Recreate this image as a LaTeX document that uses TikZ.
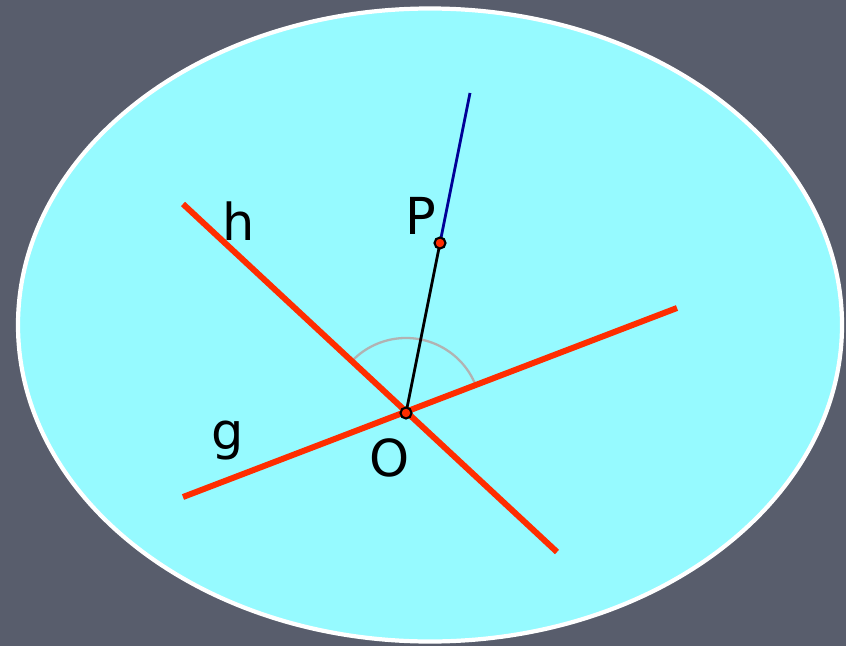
\documentclass[tikz,border=0pt]{standalone}
\usepackage{fontspec}
\setmainfont{DejaVu Sans}
\usepackage{tikz}
\usetikzlibrary{calc}
\definecolor{hintergrund}{RGB}{88,93,108}
\definecolor{ebene}{RGB}{150,250,255}
\definecolor{gerade}{RGB}{255,45,0}
\definecolor{strahl}{RGB}{0,0,150}
\definecolor{winkel}{RGB}{178,178,178}
\tikzset{
  geradenlinie/.style={gerade, line width=3.4pt},
  punkt/.style={circle, draw=black, fill=gerade, line width=1.2pt, inner sep=0pt, minimum size=0.22cm},
  beschriftung/.style={font=\fontsize{29}{29}\selectfont, inner sep=0pt}
}

\begin{document}
\begin{tikzpicture}

         % Hintergrund
         \fill[hintergrund] (0,0) rectangle (16.92,12.92);
         \useasboundingbox (0,0) rectangle (16.92,12.92);

         % Ebene als Ellipse
         \draw[fill=ebene, draw=white, line width=2.4pt] (8.6,6.42) ellipse [x radius=8.24, y radius=6.33];

         % Punkte O und P
         \coordinate (O) at (8.12,4.66);
         \coordinate (P) at (8.8,8.06);
         \coordinate (S) at (9.4,11.06);

         % Endpunkte der Geraden
         \coordinate (h1) at (3.66,8.84);
         \coordinate (h2) at (11.14,1.88);
         \coordinate (g1) at (3.66,2.98);
         \coordinate (g2) at (13.54,6.76);

         % Winkelbogen
         \def\rw{1.5}   % Radius des Winkelbogens
         \draw[winkel, line width=1.3pt]
            ($(O)+(21:\rw)$) arc[start angle=21, end angle=137, radius=\rw];

         % Geraden g und h
         \draw[geradenlinie] (h1) -- (h2);
         \draw[geradenlinie] (g1) -- (g2);

         % Strecke OP und Strahl
         \draw[strahl, line width=1.6pt] (P) -- (S);
         \draw[black, line width=1.6pt] (O) -- (P);

         \node[punkt] (o) at (O) {};
         \node[punkt] (p) at (P) {};

         % Beschriftungen
         \node[beschriftung] (lh) at (4.78,8.5) {h};
         \node[beschriftung] (lP) at (8.42,8.6) {P};
         \node[beschriftung] (lg) at (4.56,4.1) {g};
         \node[beschriftung] (lO) at (7.8,3.76) {O};

      \end{tikzpicture}
\end{document}
